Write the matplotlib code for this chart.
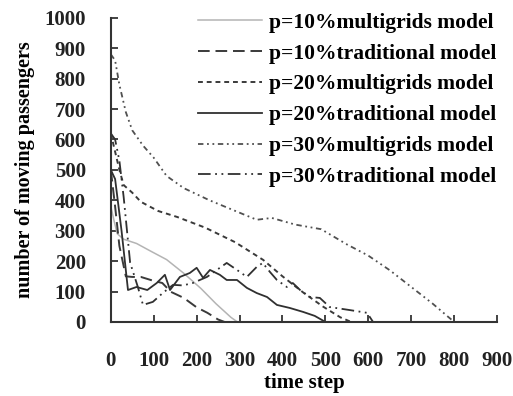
import matplotlib
matplotlib.use("Agg")
import matplotlib.pyplot as plt

# p=10% multigrids model
x_m10 = [0, 8, 15, 30, 60, 90, 130, 170, 210, 245, 280, 295]
y_m10 = [380, 330, 290, 272, 258, 235, 205, 160, 110, 60, 15, 0]

# p=10% traditional model
x_t10 = [0, 10, 20, 35, 50, 70, 100, 120, 140, 170, 200, 225, 250, 265]
y_t10 = [500, 380, 250, 150, 148, 148, 135, 128, 99, 79, 48, 30, 8, 0]

# p=20% multigrids model
x_m20 = [0, 10, 20, 30, 50, 70, 110, 155, 220, 290, 355, 400, 450, 495, 535, 560]
y_m20 = [620, 560, 500, 450, 425, 395, 365, 345, 310, 262, 204, 150, 95, 50, 15, 0]

# p=20% traditional model
x_t20 = [0, 10, 25, 40, 60, 85, 107, 126, 138, 161, 184, 200, 215, 231, 254,
         270, 294, 317, 340, 364, 387, 417, 448, 475, 500]
y_t20 = [500, 470, 300, 105, 115, 105, 128, 155, 105, 148, 161, 178, 145, 171, 155,
         138, 138, 112, 95, 82, 56, 46, 33, 20, 0]

# p=30% multigrids model
x_m30 = [0, 10, 20, 35, 50, 75, 100, 130, 170, 230, 290, 340, 375, 430, 490,
         550, 600, 650, 700, 750, 800]
y_m30 = [880, 860, 780, 690, 630, 580, 540, 480, 440, 400, 365, 336, 342, 320, 305,
         255, 218, 170, 115, 60, 0]

# p=30% traditional model
x_t30 = [0, 10, 20, 30, 45, 63, 75, 98, 121, 145, 168, 191, 224, 247, 270,
         294, 317, 340, 354, 371, 387, 410, 424, 441, 464, 487, 510, 557, 597, 611]
y_t30 = [620, 600, 530, 410, 195, 115, 56, 66, 95, 122, 120, 128, 148, 171, 194,
         171, 148, 181, 194, 164, 138, 115, 128, 105, 82, 79, 49, 39, 30, 0]

xticks = [0, 100, 200, 300, 400, 500, 600, 700, 800, 900]
yticks = [0, 100, 200, 300, 400, 500, 600, 700, 800, 900, 1000]

plt.rcParams['font.family'] = ['Liberation Serif', 'DejaVu Serif']
plt.rcParams['font.weight'] = 'bold'

fig = plt.figure(figsize=(5.13, 3.96), dpi=100)
ax = fig.add_axes([0.216, 0.187, 0.753, 0.768])

ax.plot(x_m10, y_m10, color='#b4b4b4', lw=1.1, label='p=10%multigrids model')
ax.plot(x_t10, y_t10, color='#3a3a3a', lw=1.4, dashes=(6, 3),
        label='p=10%traditional model')
ax.plot(x_m20, y_m20, color='#3a3a3a', lw=1.4, dashes=(2.5, 2),
        label='p=20%multigrids model')
ax.plot(x_t20, y_t20, color='#303030', lw=1.3, label='p=20%traditional model')
ax.plot(x_m30, y_m30, color='#505050', lw=1.3, dashes=(3, 2, 1, 2, 1, 2),
        label='p=30%multigrids model')
ax.plot(x_t30, y_t30, color='#303030', lw=1.3, dashes=(7, 2.5, 1, 2.5, 1, 2.5),
        label='p=30%traditional model')

ax.set_xlim(0, 900)
ax.set_ylim(0, 1000)
ax.set_xticks(xticks)
ax.set_yticks(yticks)
ax.tick_params(axis='x', direction='in', length=5, width=1.2, pad=21,
               labelsize=15, colors='#222222')
ax.tick_params(axis='y', direction='in', length=5, width=1.2, pad=18,
               labelsize=15, colors='#222222')
for s in ['top', 'right']:
    ax.spines[s].set_visible(False)
for s in ['left', 'bottom']:
    ax.spines[s].set_linewidth(1.5)
    ax.spines[s].set_color('#333333')

ax.set_xlabel('time step', fontsize=15, fontweight='bold', labelpad=1)
ax.set_ylabel('number of moving passengers', fontsize=14.5, fontweight='bold',
              labelpad=7)

ax.legend(loc='upper right', bbox_to_anchor=(1.02, 1.045), frameon=False,
          fontsize=15.5, handlelength=3.0, handletextpad=0.3, labelspacing=0.5,
          borderaxespad=0)

fig.savefig('out.png', dpi=100)
